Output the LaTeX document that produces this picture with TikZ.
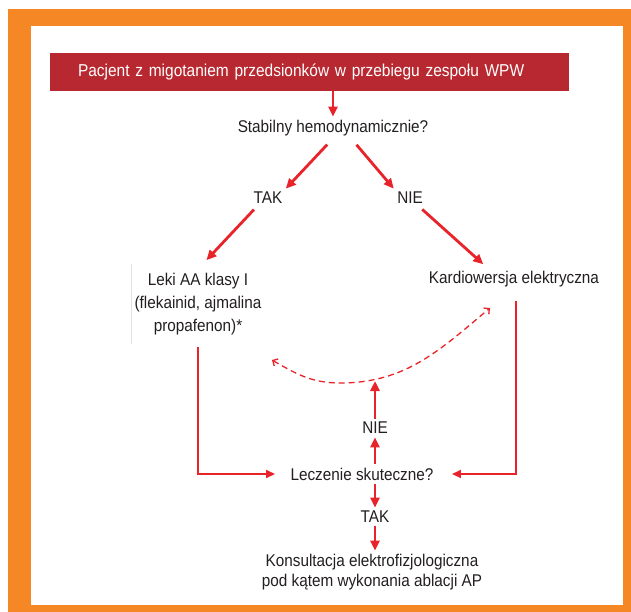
\documentclass[tikz,border=0pt]{standalone}
\usepackage{fontspec}
\setmainfont[FakeStretch=0.9]{Liberation Sans}
\usetikzlibrary{arrows.meta}
\definecolor{frameorange}{RGB}{245,135,37}
\definecolor{bannerred}{RGB}{184,40,48}
\definecolor{flowred}{RGB}{232,35,42}
\definecolor{txtdark}{RGB}{35,31,32}

\begin{document}
\begin{tikzpicture}[x=1pt,y=-1pt,line cap=butt,line join=miter,
  txt/.style={font=\fontsize{17}{23}\selectfont,text=txtdark,align=center},
  arr/.style={flowred,line width=2.8pt,-{Triangle[length=10pt,width=9pt]}},
  linkarr/.style={flowred,line width=1.8pt,-{Triangle[length=9pt,width=8pt]}},
  back/.style={flowred,line width=1.3pt,dash pattern=on 6pt off 4pt,
    {Straight Barb[length=4pt,width=8pt]}-{Straight Barb[length=4pt,width=8pt]}}]

  % --- frame ---
  \useasboundingbox (0,0) rectangle (631,612);
  \fill[frameorange] (8,9) rectangle (631,612);
  \fill[white] (31,26) rectangle (623,605);

  % --- title bar ---
  \node[fill=bannerred,text=white,font=\fontsize{17.2}{20}\selectfont,
        minimum width=519pt,minimum height=38pt,text width=463pt,
        inner xsep=28pt,align=left] (banner) at (309.5,72)
    {Pacjent z migotaniem przedsionków w przebiegu zespołu WPW};

  % --- questions and answers ---
  \node[txt] (stab) at (333,128) {Stabilny hemodynamicznie?};
  \node[txt] (tak1) at (268,198) {TAK};
  \node[txt] (nie1) at (410,198) {NIE};
  \node[txt,minimum height=80pt] (leki) at (198,304)
    {Leki AA klasy I\\(flekainid, ajmalina\\propafenon)*};
  \node[txt] (kardio) at (514,279) {Kardiowersja elektryczna};
  \node[txt] (lecz) at (362,474) {Leczenie skuteczne?};
  \node[txt] (nie2) at (375,428) {NIE};
  \node[txt] (tak2) at (375,517) {TAK};
  \node[txt,font=\fontsize{17}{20}\selectfont] (kons) at (372,572)
    {Konsultacja elektrofizjologiczna\\pod kątem wykonania ablacji AP};

  % --- ends of the dashed switch-over arc ---
  \coordinate (lekiback) at (272,360);
  \coordinate (kardioback) at (490,308);
  \coordinate (hit) at (375,381);

  % --- faint left edge of the drug box ---
  \draw[black!12,line width=0.8pt] (leki.north west) -- (leki.south west);

  % --- connectors ---
  \draw[arr] (banner.south -| stab) -- (stab.north);
  \draw[arr,shorten <=7pt] ([xshift=-1pt]stab.south) -- (tak1.north east);
  \draw[arr,shorten <=7pt] ([xshift=19pt]stab.south) -- (nie1.north west);
  \draw[arr,shorten <=3pt,shorten >=5pt] ([xshift=-12pt]tak1.south) -- ([xshift=5pt]leki.north);
  \draw[arr,shorten <=3pt,shorten >=5pt] ([xshift=10pt]nie1.south) -- ([xshift=-27pt]kardio.north);
  \draw[linkarr,shorten <=3pt,shorten >=12pt] (leki.south) |- (lecz.west);
  \draw[linkarr,shorten <=11pt,shorten >=15pt] ([xshift=2pt]kardio.south) |- (lecz.east);
  \draw[arr] (lecz.north -| nie2) -- (nie2.south);
  \draw[arr] (nie2.north) -- (hit);
  \draw[arr] (lecz.south -| tak2) -- (tak2.north);
  \draw[arr] (tak2.south) -- (kons.north -| tak2);
  \draw[back] (lekiback) to[out=-30,in=180] (340,383) to[out=0,in=-140] (kardioback);
\end{tikzpicture}
\end{document}
